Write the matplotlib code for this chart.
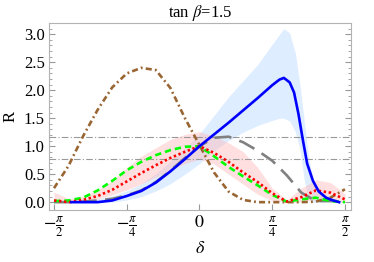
import numpy as np
import matplotlib
matplotlib.use("Agg")
import matplotlib.pyplot as plt

plt.rcParams['font.family'] = ['Liberation Serif', 'DejaVu Serif']
plt.rcParams['mathtext.fontset'] = 'stix'

HALF_PI = np.pi / 2

# delta values expressed as fractions of pi/2
t_grid = [-1.0, -0.9, -0.8, -0.7, -0.6, -0.5, -0.4, -0.3, -0.2, -0.1, 0.0,
          0.1, 0.2, 0.3, 0.4, 0.5, 0.6, 0.7, 0.8, 0.9, 1.0]

brown = [0.25, 0.65, 1.18, 1.65, 2.05, 2.30, 2.40, 2.36, 2.04, 1.50, 1.02,
         0.53, 0.19, 0.04, 0.0, 0.0, 0.0, 0.0, 0.01, 0.08, 0.23]
green = [0.02, 0.03, 0.08, 0.21, 0.38, 0.57, 0.72, 0.84, 0.93, 0.99, 1.0,
         0.82, 0.63, 0.46, 0.30, 0.13, 0.01, 0.05, 0.08, 0.02, 0.0]
red = [0.03, 0.0, 0.04, 0.11, 0.22, 0.37, 0.52, 0.66, 0.79, 0.90, 1.0,
       0.88, 0.72, 0.53, 0.36, 0.16, 0.01, 0.09, 0.21, 0.17, 0.05]
red_hi = [0.18, 0.06, 0.10, 0.22, 0.38, 0.62, 0.82, 0.97, 1.12, 1.21, 1.26,
          1.18, 1.06, 0.90, 0.62, 0.25, 0.04, 0.25, 0.40, 0.35, 0.15]
red_lo = [0.0, 0.0, 0.02, 0.06, 0.13, 0.22, 0.33, 0.45, 0.57, 0.69, 0.77,
          0.68, 0.50, 0.32, 0.14, 0.03, 0.0, 0.0, 0.05, 0.03, 0.0]
gray = [0.0, 0.0, 0.01, 0.03, 0.06, 0.12, 0.21, 0.36, 0.56, 0.79, 1.0,
        1.15, 1.17, 1.07, 0.92, 0.74, 0.48, 0.17, 0.02, 0.02, 0.02]

t_blue = [-0.88, -0.8, -0.7, -0.6, -0.5, -0.4, -0.3, -0.2, -0.1, 0.0, 0.1,
          0.2, 0.3, 0.4, 0.5, 0.55, 0.58, 0.62, 0.65, 0.68, 0.71, 0.74,
          0.78, 0.82, 0.87, 0.92, 0.96]
blue = [0.0, 0.0, 0.0, 0.03, 0.11, 0.20, 0.35, 0.55, 0.77, 1.0, 1.21,
        1.42, 1.64, 1.86, 2.09, 2.19, 2.22, 2.14, 1.96, 1.58, 1.12, 0.69,
        0.38, 0.19, 0.08, 0.03, 0.0]

t_band = [-1.0, -0.9, -0.8, -0.7, -0.6, -0.5, -0.4, -0.3, -0.2, -0.1, 0.0,
          0.1, 0.2, 0.3, 0.4, 0.5, 0.55, 0.58, 0.62, 0.66, 0.69, 0.72,
          0.75, 0.78, 0.82, 0.87, 0.93, 1.0]
blue_hi = [0.02, 0.02, 0.03, 0.06, 0.11, 0.20, 0.33, 0.51, 0.73, 0.97, 1.22,
           1.55, 1.88, 2.17, 2.46, 2.82, 3.0, 3.1, 3.02, 2.65, 2.10, 1.45,
           0.80, 0.42, 0.21, 0.10, 0.04, 0.02]
blue_lo = [0.0, 0.0, 0.0, 0.0, 0.0, 0.04, 0.10, 0.20, 0.33, 0.50, 0.69,
           0.92, 1.10, 1.25, 1.37, 1.46, 1.50, 1.50, 1.45, 1.25, 0.95, 0.40,
           0.06, 0.0, 0.0, 0.0, 0.0, 0.0]

ref_levels = [1.17, 0.78]

xticks = [-HALF_PI, -HALF_PI / 2, 0, HALF_PI / 2, HALF_PI]
xtick_labels = [r"$-\frac{\pi}{2}$", r"$-\frac{\pi}{4}$", r"$0$",
                r"$\frac{\pi}{4}$", r"$\frac{\pi}{2}$"]
yticks = [0.0, 0.5, 1.0, 1.5, 2.0, 2.5, 3.0]

fig = plt.figure(figsize=(3.74, 2.62), dpi=100)
ax = fig.add_axes([0.131, 0.1985, 0.8075, 0.7135])

def X(t):
    return np.asarray(t) * HALF_PI

ax.fill_between(X(t_band), blue_lo, blue_hi, color=(0.87, 0.93, 1.0), lw=0, zorder=1)
ax.fill_between(X(t_grid), red_lo, red_hi, color=(1.0, 0.72, 0.72), alpha=0.45, lw=0, zorder=2)

for lv in ref_levels:
    ax.axhline(lv, color=(0.6, 0.6, 0.6), lw=0.8, ls=(0, (6, 2, 1, 2)), zorder=3)

lw = 1.9
ax.plot(X(t_grid), gray, color=(0.5, 0.5, 0.5), lw=lw, ls=(0, (6.5, 3.2)), zorder=4)
ax.plot(X(t_grid), brown, color=(0.6, 0.4, 0.2), lw=lw, ls=(0, (2.3, 1.2, 0.7, 1.2)), zorder=5)
ax.plot(X(t_grid), green, color=(0.0, 1.0, 0.0), lw=lw, ls=(0, (2.4, 1.5)), zorder=6)
ax.plot(X(t_grid), red, color=(1.0, 0.0, 0.0), lw=lw, ls=(0, (0.9, 1.0)), zorder=7)
ax.plot(X(t_blue), blue, color=(0.0, 0.0, 1.0), lw=lw, zorder=8)

ax.set_xlim(-1.625, 1.636)
ax.set_ylim(-0.14, 3.2)
ax.set_xticks(xticks)
ax.set_xticklabels(xtick_labels)
ax.set_yticks(yticks)
ax.set_yticklabels([f"{v:.1f}" for v in yticks])
ax.set_yticks(np.arange(0.0, 3.21, 0.1), minor=True)

for s in ax.spines.values():
    s.set_color((0.7, 0.7, 0.7))
    s.set_linewidth(0.8)
ax.tick_params(axis='both', which='both', direction='in', color=(0.6, 0.6, 0.6),
               labelsize=12, right=True, top=False)
ax.tick_params(axis='y', which='major', length=4, pad=3)
ax.tick_params(axis='y', which='minor', length=2)
ax.tick_params(axis='x', which='major', length=4, labelsize=13, pad=3)

ax.set_title(r"tan $\beta$=1.5", fontsize=12, pad=4)
ax.set_ylabel("R", fontsize=12, labelpad=4)
ax.set_xlabel(r"$\delta$", fontsize=13, labelpad=1)

fig.savefig("out.png", dpi=100)
